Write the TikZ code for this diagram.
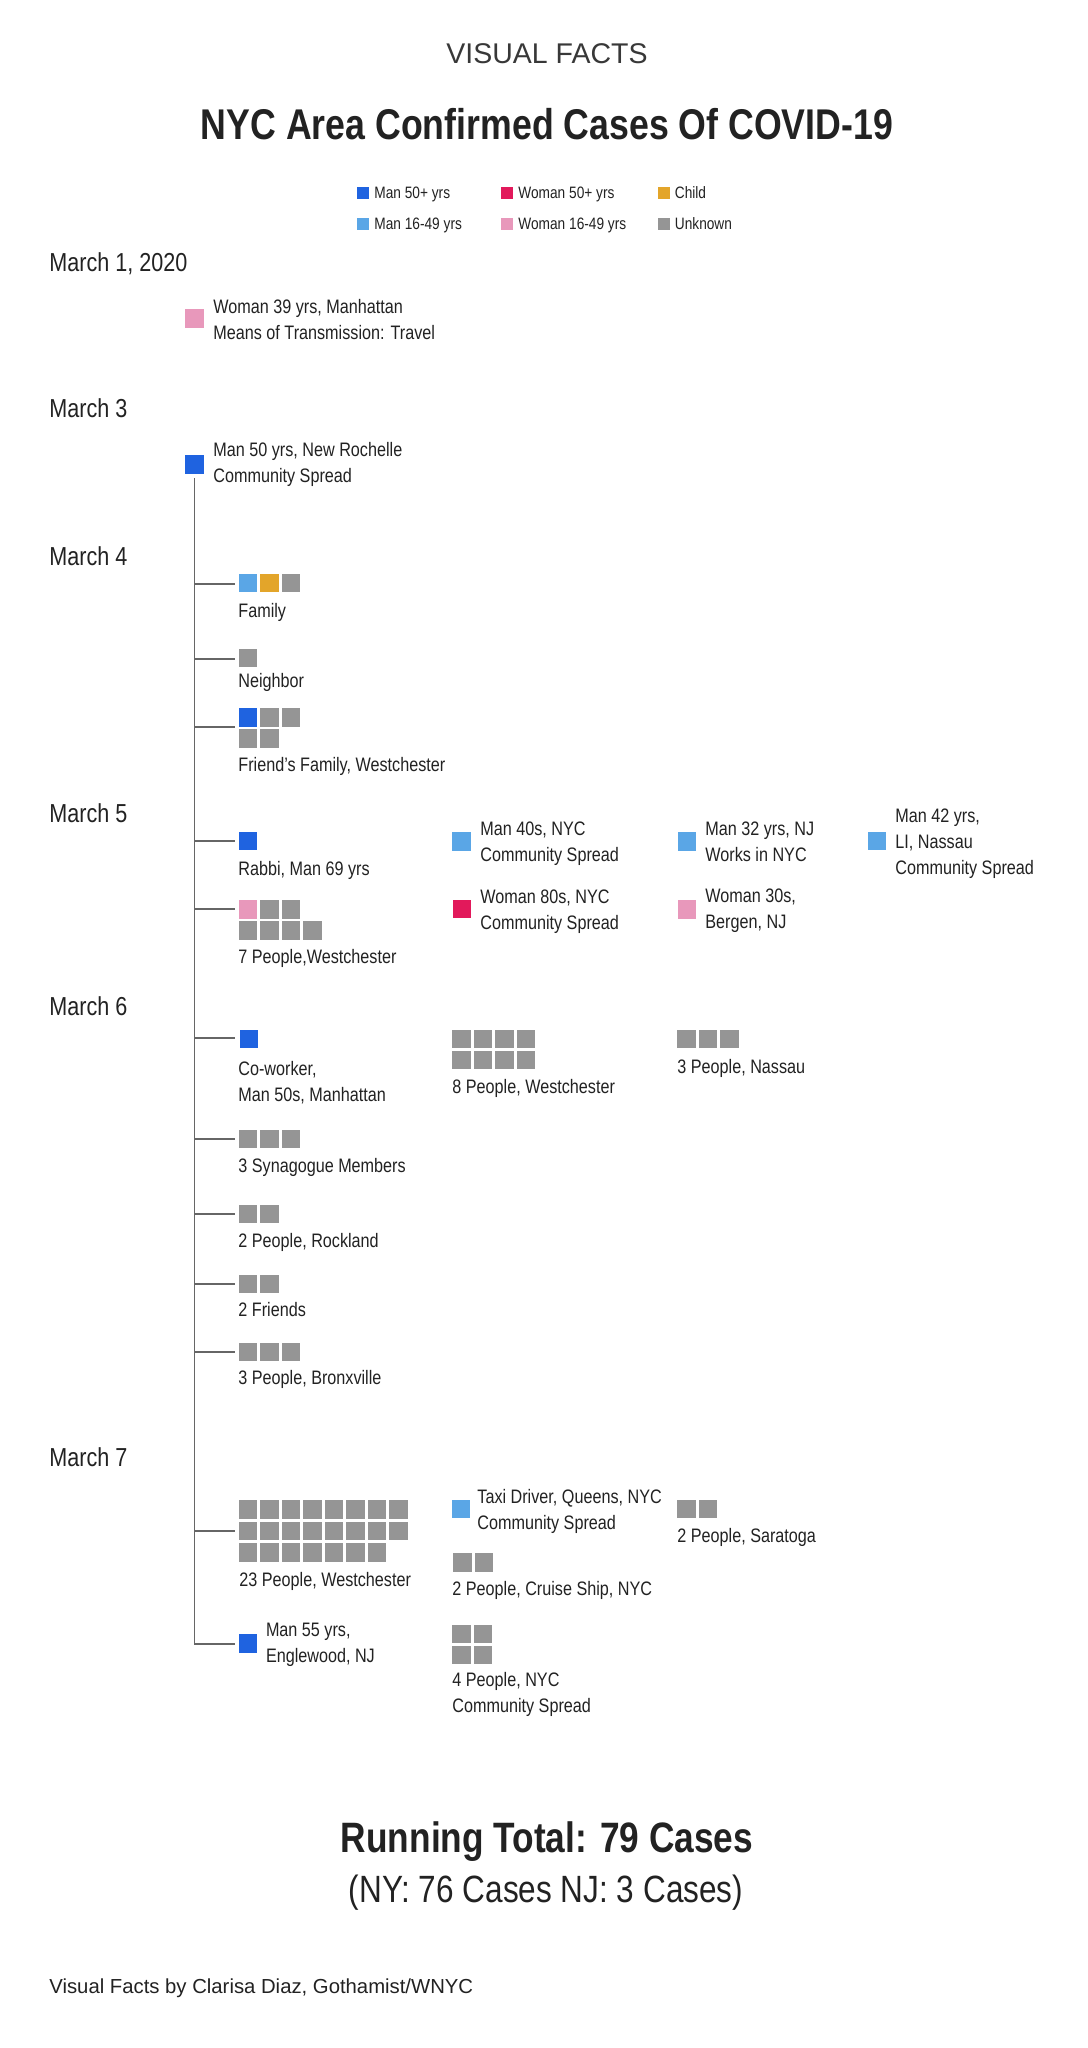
\documentclass[tikz,border=0pt]{standalone}
\usepackage{fontspec}
\setmainfont{Liberation Sans}[FakeStretch=0.83]
\newfontfamily\plainsans{Liberation Sans}
\usepackage{xcolor}
\usepackage{tikz}

\definecolor{manold}{HTML}{1F63E0}
\definecolor{manyoung}{HTML}{5AA6E6}
\definecolor{womold}{HTML}{E2195B}
\definecolor{womyoung}{HTML}{E898BB}
\definecolor{kid}{HTML}{E3A52A}
\definecolor{unk}{HTML}{959595}
\definecolor{ink}{HTML}{222222}
\definecolor{stem}{HTML}{666666}

% one row of grey cases: prefix, from, to, x of column 1, y
\newcommand{\grayrow}[5]{%
  \foreach \i in {#2,...,#3}
    \node[sq] (#1\i) at ({#4+21.5*(\i-1)},#5) {};}

\begin{document}
\begin{tikzpicture}[x=0.5pt,y=-0.5pt,
    sq/.style={fill=#1, minimum size=9.25pt, inner sep=0pt},
    sq/.default=unk,
    lsq/.style={fill=#1, minimum size=6pt, inner sep=0pt},
    kicker/.style={font=\plainsans\fontsize{14.25}{16}\selectfont, text=ink!90, inner sep=0pt, anchor=base},
    ttl/.style={font=\bfseries\fontsize{21.5}{24}\selectfont, text=ink, inner sep=0pt, anchor=base},
    legtxt/.style={font=\fontsize{8.25}{10}\selectfont, text=ink, inner sep=0pt, anchor=base west},
    datelbl/.style={font=\fontsize{13}{15}\selectfont, text=ink, inner sep=0pt, anchor=base west},
    lbl/.style={font=\fontsize{9.75}{13}\selectfont, text=ink, inner sep=0pt, anchor=base west},
    txt/.style={font=\fontsize{9.75}{13}\selectfont, text=ink, inner sep=0pt, anchor=north west, align=left},
    link/.style={draw=stem, line width=0.75pt},
    total/.style={font=\bfseries\fontsize{21.25}{24}\selectfont, text=ink, inner sep=0pt, anchor=base},
    subtotal/.style={font=\fontsize{19}{22}\selectfont, text=ink, inner sep=0pt, anchor=base},
    credit/.style={font=\plainsans\fontsize{10.15}{12}\selectfont, text=ink, inner sep=0pt, anchor=base west}]

  \useasboundingbox[fill=white] (0,0) rectangle (1087,2048);

  % heading
  \node[kicker] (kick) at (547,64) {VISUAL FACTS};
  \node[ttl] (title) at (547,140) {NYC Area Confirmed Cases Of COVID-19};

  % key
  \foreach \x/\y/\c/\t in {363/193/manold/Man 50+ yrs, 507/193/womold/Woman 50+ yrs,
      663.5/193/kid/Child, 363/224/manyoung/Man 16-49 yrs,
      507/224/womyoung/Woman 16-49 yrs, 663.5/224/unk/Unknown} {
    \node[lsq=\c] (key-\c) at (\x,\y) {};
    \node[legtxt] (key-\c-t) at ([xshift=5.5pt,yshift=-2.95pt]key-\c.center) {\t};
  }

  % dates
  \node[datelbl] (mar1) at (49,272) {March 1, 2020};
  \node[datelbl] (mar3) at (49,418) {March 3};
  \node[datelbl] (mar4) at (49,565) {March 4};
  \node[datelbl] (mar5) at (49,822) {March 5};
  \node[datelbl] (mar6) at (49,1015) {March 6};
  \node[datelbl] (mar7) at (49,1466) {March 7};

  % March 1
  \node[sq=womyoung] (inc) at (194.3,318.5) {};
  \node[txt] (incT) at (213,299) {Woman 39 yrs, Manhattan\\Means of Transmission: Travel};

  % March 3
  \node[sq=manold] (p0) at (194.3,464.5) {};
  \node[txt] (p0T) at (213,442) {Man 50 yrs, New Rochelle\\Community Spread};

  % March 4
  \node[sq=manyoung] (fam1) at (248,583) {};
  \node[sq=kid] (fam2) at (269.5,583) {};
  \node[sq] (fam3) at (291,583) {};
  \node[lbl] (famT) at (238,617) {Family};
  \coordinate (bFam) at (235,584);

  \grayrow{nbr}{1}{1}{248}{658}
  \node[lbl] (nbrT) at (238,687) {Neighbor};
  \coordinate (bNbr) at (235,659);

  \node[sq=manold] (frdA1) at (248,717.5) {};
  \grayrow{frdA}{2}{3}{248}{717.5}
  \grayrow{frdB}{1}{2}{248}{738.5}
  \node[lbl] (frdT) at (238,771) {Friend’s Family, Westchester};
  \coordinate (bFrd) at (235,727);

  % March 5
  \node[sq=manold] (rab) at (248,841) {};
  \node[lbl] (rabT) at (238,875) {Rabbi, Man 69 yrs};
  \coordinate (bRab) at (235,841);

  \node[sq=manyoung] (m40) at (461.5,841.5) {};
  \node[txt] (m40T) at (480,821) {Man 40s, NYC\\Community Spread};
  \node[sq=manyoung] (m32) at (687,841.5) {};
  \node[txt] (m32T) at (705,821) {Man 32 yrs, NJ\\Works in NYC};
  \node[sq=manyoung] (m42) at (877,841) {};
  \node[txt] (m42T) at (895,808) {Man 42 yrs,\\LI, Nassau\\Community Spread};

  \node[sq=womyoung] (sevA1) at (248,909.5) {};
  \grayrow{sevA}{2}{3}{248}{909.5}
  \grayrow{sevB}{1}{4}{248}{930.5}
  \node[lbl] (sevT) at (238,963) {7 People,Westchester};
  \coordinate (bSev) at (235,909);

  \node[sq=womold] (w80) at (462,909) {};
  \node[txt] (w80T) at (480,889) {Woman 80s, NYC\\Community Spread};
  \node[sq=womyoung] (w30) at (687,909.5) {};
  \node[txt] (w30T) at (705,888) {Woman 30s,\\Bergen, NJ};

  % March 6
  \node[sq=manold] (cow) at (249,1039) {};
  \node[txt] (cowT) at (238,1061) {Co-worker,\\Man 50s, Manhattan};
  \coordinate (bCow) at (235,1038);

  \grayrow{eiA}{1}{4}{461.5}{1039}
  \grayrow{eiB}{1}{4}{461.5}{1060}
  \node[lbl] (eiT) at (452,1093) {8 People, Westchester};

  \grayrow{nas}{1}{3}{686.5}{1039}
  \node[lbl] (nasT) at (677,1073) {3 People, Nassau};

  \grayrow{syn}{1}{3}{248}{1139}
  \node[lbl] (synT) at (238,1172) {3 Synagogue Members};
  \coordinate (bSyn) at (235,1139);

  \grayrow{rock}{1}{2}{248}{1214}
  \node[lbl] (rockT) at (238,1247) {2 People, Rockland};
  \coordinate (bRock) at (235,1214);

  \grayrow{frn}{1}{2}{248}{1284}
  \node[lbl] (frnT) at (238,1316) {2 Friends};
  \coordinate (bFrn) at (235,1284);

  \grayrow{brx}{1}{3}{248}{1352}
  \node[lbl] (brxT) at (238,1384) {3 People, Bronxville};
  \coordinate (bBrx) at (235,1352);

  % March 7
  \grayrow{twA}{1}{8}{248}{1509.5}
  \grayrow{twB}{1}{8}{248}{1531}
  \grayrow{twC}{1}{7}{248}{1552.5}
  \node[lbl] (twT) at (239,1586) {23 People, Westchester};
  \coordinate (bTw) at (235,1531);

  \node[sq=manyoung] (taxi) at (461,1509) {};
  \node[txt] (taxiT) at (477,1489) {Taxi Driver, Queens, NYC\\Community Spread};

  \grayrow{sar}{1}{2}{686.5}{1509}
  \node[lbl] (sarT) at (677,1542) {2 People, Saratoga};

  \grayrow{cru}{1}{2}{462.5}{1562.5}
  \node[lbl] (cruT) at (452,1595) {2 People, Cruise Ship, NYC};

  \node[sq=manold] (eng) at (248,1643.5) {};
  \node[txt] (engT) at (265.6,1623) {Man 55 yrs,\\Englewood, NJ};
  \coordinate (bEng) at (235,1644);

  \grayrow{fourA}{1}{2}{461.5}{1634}
  \grayrow{fourB}{1}{2}{461.5}{1655}
  \node[txt] (fourT) at (452,1672) {4 People, NYC\\Community Spread};

  % tree from the March 3 case
  \draw[link, shorten <=2pt] (p0.south) |- (bEng);
  \foreach \b in {bFam,bNbr,bFrd,bRab,bSev,bCow,bSyn,bRock,bFrn,bBrx,bTw}
    \draw[link] (p0.south |- \b) -- (\b);

  % totals
  \node[total] (run) at (547,1852) {Running Total: 79 Cases};
  \node[subtotal] (split) at (546,1902) {(NY: 76 Cases NJ: 3 Cases)};
  \node[credit] (byline) at (49,1993) {Visual Facts by Clarisa Diaz, Gothamist/WNYC};
\end{tikzpicture}
\end{document}
